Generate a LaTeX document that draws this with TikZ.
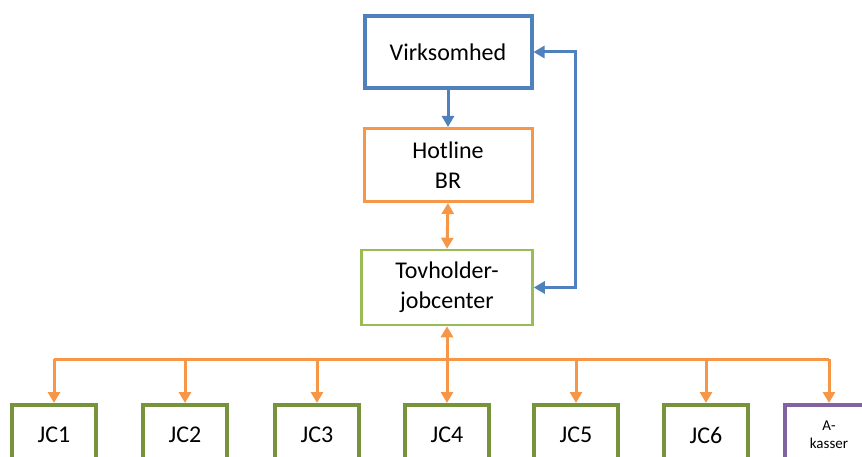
\documentclass[tikz,border=0pt]{standalone}
\usepackage{fontspec}
\setmainfont{Carlito}
\usetikzlibrary{arrows.meta}
\definecolor{vblue}{HTML}{4F81BD}
\definecolor{vorange}{HTML}{F79646}
\definecolor{lgreen}{HTML}{9BBB59}
\definecolor{dgreen}{HTML}{77933C}
\definecolor{vpurple}{HTML}{8064A2}
\tikzset{
  box/.style={rectangle, inner sep=0pt, fill=white, align=center,
    font=\fontsize{24}{30}\selectfont},
  jcbox/.style={box, draw=dgreen, line width=4pt, minimum width=84pt, minimum height=60pt},
  tip/.style={-{Triangle[length=11pt,width=12pt]}},
  dtip/.style={{Triangle[length=11pt,width=12pt]}-{Triangle[length=11pt,width=12pt]}},
  bluelink/.style={draw=vblue, line width=3pt},
  orangelink/.style={draw=vorange, line width=3pt},
}
\begin{document}
\begin{tikzpicture}[x=1pt,y=-1pt]
\useasboundingbox (0,0) rectangle (862,457);
\clip (0,0) rectangle (862,457);

% top chain
\node[box, draw=vblue, line width=4pt, minimum width=167pt, minimum height=72pt] (virk) at (448,52) {Virksomhed};
\node[box, draw=vorange, line width=3pt, minimum width=168pt, minimum height=73pt] (hot) at (448,165) {Hotline\\BR};
\node[box, draw=lgreen, line width=2.5pt, minimum width=171pt, minimum height=75pt] (tov) at (447,287.5) {Tovholder-\\jobcenter};

% bottom row (boxes run past the lower edge)
\node[jcbox] (jc1) at (54,435) {JC1};
\node[jcbox] (jc2) at (185,435) {JC2};
\node[jcbox] (jc3) at (317,435) {JC3};
\node[jcbox] (jc4) at (447,435) {JC4};
\node[jcbox] (jc5) at (576,435) {JC5};
\node[jcbox] (jc6) at (706,435) {JC6};
\node[box, draw=vpurple, line width=4pt, minimum width=88pt, minimum height=60pt,
      font=\fontsize{15}{18}\selectfont] (ak) at (829,435) {A-\\kasser};

% connectors
\draw[bluelink, tip] (virk.south) -- (hot.north);
\draw[orangelink, dtip] (hot.south) -- (tov.north);
\draw[bluelink, dtip] (tov.east) -- ++(42,0) |- (virk.east);

\coordinate (bus) at (0,359);
\draw[orangelink] (jc1.north |- bus) -- (ak.north |- bus);
\draw[orangelink, dtip] (tov.south) -- (jc4.north);
\foreach \n in {jc1,jc2,jc3,jc5,jc6,ak}
  \draw[orangelink, tip] (\n.north |- bus) -- (\n.north);
\end{tikzpicture}
\end{document}
